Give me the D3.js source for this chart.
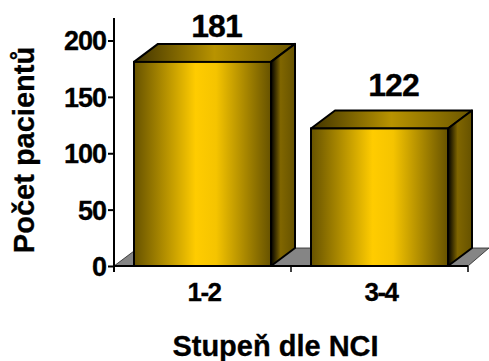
<!DOCTYPE html>
<html>
<head>
<meta charset="utf-8">
<script src="https://cdn.jsdelivr.net/npm/d3@7"></script>
<style>
  html, body { margin: 0; padding: 0; background: #fff; }
  text { font-family: "Liberation Sans", Arial, sans-serif; font-weight: bold; fill: #000; stroke: #000; stroke-width: 0.3px; }
</style>
</head>
<body>
<svg id="chart" width="489" height="361"></svg>
<script>
const categories = ['1-2', '3-4'];
const patients = [181, 122];
const yTicks = [0, 50, 100, 150, 200];
const xTitle = 'Stupeň dle NCI';
const yTitle = 'Počet pacientů';

const svg = d3.select('#chart');

const x = d3.scaleBand().domain(categories).range([114, 468])
  .paddingInner(40 / 177).paddingOuter(20 / 177);
const y = d3.scaleLinear().domain([0, 200]).range([266, 40.5]);

// depth of the fake 3d boxes
const dx = 24, dy = -18;

const defs = svg.append('defs');
function gradient(id, stops) {
  const g = defs.append('linearGradient').attr('id', id);
  stops.forEach(s => g.append('stop').attr('offset', s[0]).attr('stop-color', s[1]));
}
gradient('front', [[0, '#665200'], [0.45, '#ffcc00'], [0.6, '#f5c400'], [1, '#665200']]);
gradient('top', [[0, '#403300'], [0.5, '#b89300'], [1, '#6b5600']]);
gradient('side', [[0, '#000000'], [0.4, '#806600'], [1, '#665200']]);

// floor
const floorY = y(0);
svg.append('path')
  .attr('d', d3.line()([[x.range()[0], floorY], [x.range()[0] + dx, floorY + dy],
    [x.range()[1] + dx - 3, floorY + dy], [x.range()[1], floorY]]) + 'Z')
  .attr('fill', '#858585').attr('stroke', '#222').attr('stroke-width', 0.8);

// bars
const bars = svg.selectAll('.bar').data(patients).enter().append('g').attr('class', 'bar');
const x0 = (d, i) => x(categories[i]);
const x1 = (d, i) => x(categories[i]) + x.bandwidth();

bars.append('path')
  .attr('d', (d, i) => d3.line()([[x0(d, i), y(d)], [x0(d, i) + dx, y(d) + dy],
    [x1(d, i) + dx, y(d) + dy], [x1(d, i), y(d)]]) + 'Z')
  .attr('fill', 'url(#top)').attr('stroke', '#000').attr('stroke-width', 2).attr('stroke-linejoin', 'round');

bars.append('path')
  .attr('d', (d, i) => d3.line()([[x1(d, i), y(d)], [x1(d, i) + dx, y(d) + dy],
    [x1(d, i) + dx, y(0) + dy], [x1(d, i), y(0)]]) + 'Z')
  .attr('fill', 'url(#side)').attr('stroke', '#000').attr('stroke-width', 2).attr('stroke-linejoin', 'round');

bars.append('rect')
  .attr('x', x0)
  .attr('y', d => y(d))
  .attr('width', x.bandwidth())
  .attr('height', d => y(0) - y(d))
  .attr('fill', 'url(#front)').attr('stroke', '#000').attr('stroke-width', 2);

bars.append('text')
  .attr('x', (d, i) => x0(d, i) + x.bandwidth() / 2 + 14)
  .attr('y', (d, i) => y(d) + dy - (i ? 14 : 7))
  .attr('text-anchor', 'middle')
  .style('font-size', '32px').style('letter-spacing', '-1px')
  .text(d => d);

// axes
const yAxis = d3.axisLeft(y).tickValues(yTicks).tickSize(6).tickPadding(2).tickSizeOuter(0);
const yG = svg.append('g').attr('transform', 'translate(114,0)').call(yAxis);
yG.select('.domain').remove();
yG.append('line').attr('y1', 18).attr('y2', 272).attr('stroke', '#000').attr('stroke-width', 2);
yG.selectAll('.tick line').attr('stroke-width', 2);
yG.selectAll('.tick text').attr('fill', '#000').style('font-size', '27px').style('letter-spacing', '-1px').attr('dy', '0.35em');
yG.attr('font-family', null).attr('font-size', null);

const bandEdges = [x.range()[0], x.range()[0] + x.step(), x.range()[1]];
const xLine = svg.append('g');
xLine.append('line').attr('x1', 114).attr('x2', 468).attr('y1', floorY).attr('y2', floorY)
  .attr('stroke', '#000').attr('stroke-width', 2);
xLine.selectAll('.edge').data(bandEdges).enter().append('line').attr('class', 'edge')
  .attr('x1', d => d).attr('x2', d => d).attr('y1', floorY).attr('y2', floorY + 6)
  .attr('stroke', '#000').attr('stroke-width', 1.5);

const xAxis = d3.axisBottom(x).tickSize(0).tickPadding(17);
const xG = svg.append('g').attr('transform', `translate(1.5,${floorY})`).call(xAxis);
xG.select('.domain').remove();
xG.attr('font-family', null).attr('font-size', null);
xG.selectAll('.tick text').attr('fill', '#000').style('font-size', '26px').style('letter-spacing', '-1.5px');

svg.append('text').attr('x', 275.5).attr('y', 356).attr('text-anchor', 'middle')
  .style('font-size', '29px').text(xTitle);

svg.append('text').attr('transform', 'translate(34,150) rotate(-90)').attr('text-anchor', 'middle')
  .style('font-size', '29px').text(yTitle);
</script>
</body>
</html>
